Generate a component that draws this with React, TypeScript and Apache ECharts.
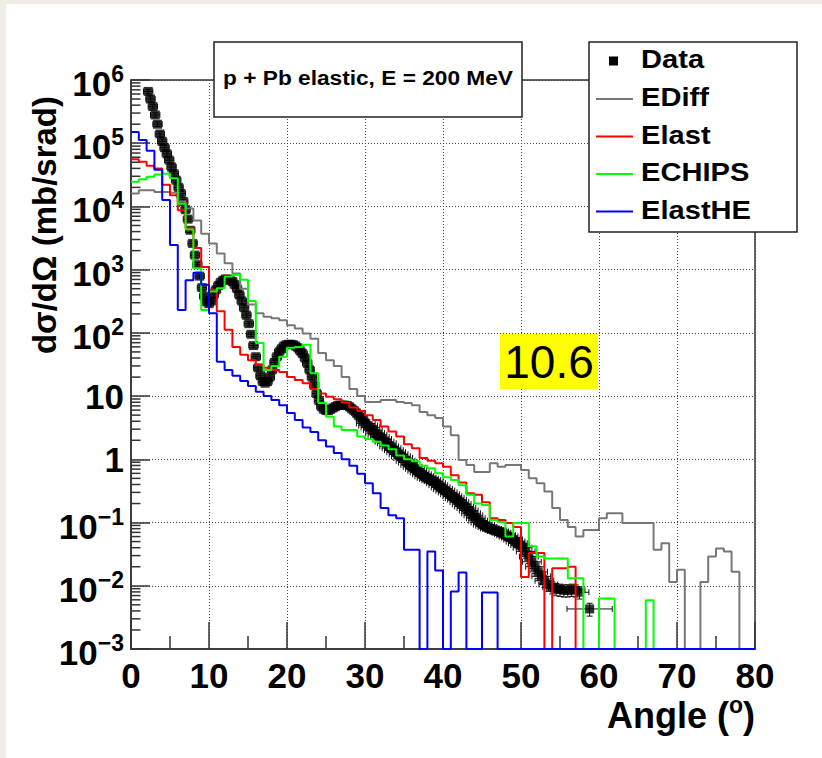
import { useEffect, useRef } from "react";
import * as echarts from "echarts";

const FONT = '"Liberation Sans", Arial, Helvetica, sans-serif';

// ---- axes ----
const X_MIN = 0;
const X_MAX = 80;
const X_STEP = 10;
const Y_MIN = 1e-3;
const Y_MAX = 1e6;
const BIN_WIDTH = 1; // histogram bins of 1 degree, starting at 0

// ---- texts ----
const titleText = "p + Pb elastic, E = 200 MeV";
const badgeText = "10.6";
const xTitle = "Angle (";
const yTitle = "dσ/dΩ (mb/srad)";
const seriesNames = ["Data", "EDiff", "Elast", "ECHIPS", "ElastHE"];
const seriesColors = ["#000000", "#777777", "#ff0000", "#00ff00", "#0000ff"];

// ---- histograms (80 bins, 0 = empty bin) ----
const ediff = [
  16000, 18000, 18000, 17000, 17000, 16500, 12000, 9300, 6000, 3700,
  2600, 1800, 1260, 870, 500, 280, 205, 180, 170, 158,
  132, 117, 98, 81, 48, 37, 30, 20, 13, 10,
  8.1, 8.1, 8.7, 8.7, 8.1, 7.8, 7.2, 5.6, 5.0, 4.5,
  3.3, 2.4, 0.98, 0.81, 0.63, 0.63, 0.87, 0.76, 0.81, 0.81,
  0.68, 0.5, 0.42, 0.31, 0.17, 0.11, 0.085, 0.06, 0.076, 0.076,
  0.117, 0.14, 0.14, 0.098, 0.098, 0.098, 0.098, 0.037, 0.047, 0.0115,
  0.018, 0, 0, 0.0115, 0.029, 0.039, 0.035, 0.0166, 0, 0,
];
const elast = [
  56000, 51000, 44000, 40000, 22000, 15000, 8700, 4500, 2200, 1100,
  480, 220, 112, 60, 45, 37, 31, 28, 26, 24,
  20, 18, 16, 13, 11, 9.8, 8.9, 7.9, 6.6, 5.8,
  5.0, 4.2, 3.3, 2.75, 2.3, 1.74, 1.5, 1.05, 0.95, 0.87,
  0.76, 0.56, 0.43, 0.29, 0.275, 0.21, 0.117, 0.11, 0.098, 0.085,
  0.0138, 0.033, 0.033, 0, 0.019, 0.019, 0.02, 0, 0, 0,
  0, 0, 0, 0, 0, 0, 0, 0, 0, 0,
  0, 0, 0, 0, 0, 0, 0, 0, 0, 0,
];
const echips = [
  24500, 27000, 29500, 32000, 33000, 28000, 11000, 4300, 1050, 230,
  450, 510, 780, 830, 690, 320, 69, 26, 30, 42,
  58, 60, 65, 23, 7.8, 4.7, 3.3, 2.9, 2.9, 2.3,
  2.1, 1.9, 1.66, 1.45, 1.15, 1.0, 0.93, 0.79, 0.72, 0.6,
  0.52, 0.47, 0.39, 0.275, 0.2, 0.19, 0.11, 0.102, 0.06, 0.098,
  0.098, 0.042, 0.029, 0.027, 0.027, 0.027, 0.0132, 0.0132, 0, 0,
  0.0063, 0.0063, 0, 0, 0, 0, 0.0059, 0, 0, 0,
  0, 0, 0, 0, 0, 0, 0, 0, 0, 0,
];
const elastHE = [
  150000, 112000, 76000, 38000, 12600, 2450, 230, 680, 890, 575,
  205, 35, 26, 21, 17.4, 14.5, 11.7, 10, 8.7, 7.2,
  5.4, 4.2, 3.2, 2.7, 2.0, 1.6, 1.26, 1.0, 0.79, 0.59,
  0.42, 0.29, 0.17, 0.13, 0.117, 0.037, 0.037, 0, 0.035, 0.0174,
  0, 0.0081, 0.0162, 0, 0, 0.0078, 0.0078, 0, 0, 0,
  0, 0, 0, 0, 0, 0, 0, 0, 0, 0,
  0, 0, 0, 0, 0, 0, 0, 0, 0, 0,
  0, 0, 0, 0, 0, 0, 0, 0, 0, 0,
];

// ---- measured data: [angle (deg), dσ/dΩ (mb/srad)] ----
const dataPoints: [number, number][] = [
  [2.2, 6.6e5], [2.5, 5.0e5], [2.8, 3.8e5], [3.1, 2.8e5], [3.4, 2.0e5],
  [3.7, 1.4e5], [4.0, 1.07e5], [4.3, 8.5e4], [4.6, 6.8e4], [4.9, 5.4e4],
  [5.2, 4.2e4], [5.5, 3.3e4], [5.8, 2.6e4], [6.1, 2.0e4], [6.4, 1.6e4],
  [6.7, 1.2e4], [7.0, 8900], [7.3, 6300], [7.6, 4200], [7.9, 2600],
  [8.2, 1700], [8.5, 1200], [8.8, 790], [9.1, 520], [9.4, 380],
  [9.7, 310], [10.0, 290], [10.3, 320], [10.6, 400], [10.9, 480],
  [11.2, 560], [11.5, 630], [11.8, 680], [12.1, 710], [12.4, 710],
  [12.7, 690], [13.0, 650], [13.3, 580], [13.6, 500], [13.9, 400],
  [14.2, 320], [14.5, 250], [14.8, 190], [15.1, 140], [15.4, 95],
  [15.7, 63], [16.0, 42], [16.3, 28], [16.6, 21], [16.9, 17],
  [17.2, 16], [17.5, 17], [17.8, 20], [18.1, 26], [18.4, 34],
  [18.7, 42], [19.0, 50], [19.3, 56], [19.6, 62], [19.9, 65],
  [20.2, 66], [20.5, 66], [20.8, 65], [21.1, 62], [21.4, 58],
  [21.7, 52], [22.0, 47], [22.3, 40], [22.6, 33], [22.9, 26],
  [23.2, 20], [23.5, 15], [23.8, 11], [24.1, 8.5], [24.4, 6.9],
  [24.7, 6.2], [25.0, 5.9], [25.3, 5.9], [25.6, 6.2], [25.9, 6.5],
  [26.2, 6.8], [26.5, 7.1], [26.8, 7.2], [27.1, 7.2], [27.4, 7.2],
  [27.7, 7.1], [28.0, 6.8], [28.3, 6.3], [28.6, 5.9], [28.9, 5.4],
  [29.2, 4.9], [29.5, 4.5], [29.8, 4.1], [30.1, 3.7], [30.4, 3.4],
  [30.7, 3.2], [31.0, 2.9], [31.3, 2.6], [31.6, 2.45], [31.9, 2.25],
  [32.2, 2.1], [32.5, 1.9], [32.8, 1.8], [33.1, 1.6], [33.4, 1.5],
  [33.7, 1.4], [34.0, 1.3], [34.3, 1.2], [34.6, 1.12], [34.9, 1.05],
  [35.2, 0.95], [35.5, 0.89], [35.8, 0.81], [36.1, 0.76], [36.4, 0.71],
  [36.7, 0.66], [37.0, 0.62], [37.3, 0.58], [37.6, 0.54], [37.9, 0.51],
  [38.2, 0.49], [38.5, 0.47], [38.8, 0.45], [39.1, 0.42], [39.4, 0.39],
  [39.7, 0.36], [40.0, 0.34], [40.3, 0.32], [40.6, 0.3], [40.9, 0.28],
  [41.2, 0.26], [41.5, 0.245], [41.8, 0.23], [42.1, 0.21], [42.4, 0.195],
  [42.7, 0.18], [43.0, 0.17], [43.3, 0.155], [43.6, 0.14], [43.9, 0.13],
  [44.2, 0.117], [44.5, 0.107], [44.8, 0.1], [45.1, 0.093], [45.4, 0.089],
  [45.7, 0.085], [46.0, 0.081], [46.3, 0.079], [46.6, 0.076], [46.9, 0.074],
  [47.2, 0.072], [47.5, 0.069], [47.8, 0.066], [48.1, 0.063], [48.4, 0.06],
  [48.7, 0.058], [49.0, 0.054], [49.3, 0.05], [49.6, 0.047], [49.9, 0.044],
  [50.2, 0.04], [50.6, 0.035], [51.0, 0.029], [51.4, 0.024], [51.8, 0.02],
  [52.2, 0.0166], [52.6, 0.0141], [53.0, 0.012], [53.5, 0.0105], [54.0, 0.0095],
  [54.5, 0.0089], [55.0, 0.0087], [55.5, 0.0085], [56.0, 0.0085], [56.5, 0.0087],
  [57.0, 0.0085], [57.5, 0.0079], [58.8, 0.0043],
];

// error sizes by angular range: half-width in degrees, relative vertical error
const dataErrors = [
  { upTo: 30, dx: 0.6, rel: 0.08 },
  { upTo: 50, dx: 1.2, rel: 0.15 },
  { upTo: 58, dx: 1.2, rel: 0.22 },
  { upTo: 80, dx: 2.9, rel: 0.23 },
];

function histData(vals: number[]) {
  const pts: number[][] = vals.map((v, i) => [X_MIN + i * BIN_WIDTH, v > 0 ? v : Y_MIN]);
  pts.push([X_MIN + vals.length * BIN_WIDTH, pts[pts.length - 1][1]]);
  return pts;
}

const minorTickValues: number[][] = [];
for (let k = -3; k < 6; k++) {
  for (let m = 2; m <= 9; m++) minorTickValues.push([X_MIN, m * Math.pow(10, k)]);
}

const expLabel = (v: number) => {
  const e = Math.round(Math.log10(v));
  if (e === 0) return "{n|1}";
  if (e === 1) return "{n|10}";
  return `{b|10}{s|${e < 0 ? "\u2212" + -e : e}}`;
};

const AX = "#333333";

export default function App() {
  const ref = useRef<HTMLDivElement>(null);
  useEffect(() => {
    if (!ref.current) return;
    const chart = echarts.init(ref.current, undefined, { renderer: "svg" });

    const errorData = dataPoints.map(([x, y]) => {
      const band = dataErrors.find((b) => x <= b.upTo) || dataErrors[dataErrors.length - 1];
      return [x, y, band.dx, band.rel];
    });

    const errStyle = { stroke: "#111", lineWidth: 1 };
    const renderErr = (_p: any, api: any) => {
      const x = api.value(0);
      const y = api.value(1);
      const dx = api.value(2);
      const rel = api.value(3);
      const c = api.coord([x, y]);
      const l = api.coord([x - dx, y]);
      const r = api.coord([x + dx, y]);
      const t = api.coord([x, y * (1 + rel)]);
      const b = api.coord([x, y * (1 - rel)]);
      const cap = 3;
      return {
        type: "group",
        children: [
          { type: "line", shape: { x1: l[0], y1: c[1], x2: r[0], y2: c[1] }, style: errStyle },
          { type: "line", shape: { x1: l[0], y1: c[1] - cap, x2: l[0], y2: c[1] + cap }, style: errStyle },
          { type: "line", shape: { x1: r[0], y1: c[1] - cap, x2: r[0], y2: c[1] + cap }, style: errStyle },
          { type: "line", shape: { x1: c[0], y1: t[1], x2: c[0], y2: b[1] }, style: errStyle },
          { type: "line", shape: { x1: c[0] - cap, y1: t[1], x2: c[0] + cap, y2: t[1] }, style: errStyle },
          { type: "line", shape: { x1: c[0] - cap, y1: b[1], x2: c[0] + cap, y2: b[1] }, style: errStyle },
        ],
      };
    };

    const renderMinor = (_p: any, api: any) => {
      const c = api.coord([api.value(0), api.value(1)]);
      return {
        type: "line",
        shape: { x1: c[0], y1: c[1], x2: c[0] + 9.5, y2: c[1] },
        style: { stroke: AX, lineWidth: 1.5 },
      };
    };

    const hist = (name: string, vals: number[], color: string) => ({
      type: "line",
      name,
      data: histData(vals),
      step: "end",
      symbol: "none",
      showSymbol: false,
      clip: false,
      silent: true,
      lineStyle: { color, width: 2 },
      itemStyle: { color },
      z: 3,
    });

    const txt = (
      text: string,
      x: number,
      y: number,
      size: number,
      opts: any = {}
    ) => ({
      type: "text",
      x,
      y,
      z: 101,
      silent: true,
      scaleX: opts.scaleX || 1,
      rotation: opts.rotation || 0,
      style: {
        text,
        fill: "#000",
        fontFamily: FONT,
        fontSize: size,
        fontWeight: opts.weight || "bold",
        align: opts.align || "left",
        textAlign: opts.align || "left",
        verticalAlign: "middle",
        textVerticalAlign: "middle",
        rich: opts.rich,
      },
    });

    const legendRows = [59.5, 97.5, 135, 172.5, 210];
    const legendLines = [61, 99, 136.5, 174, 211.5];

    const graphicEls: any[] = [
      { type: "rect", silent: true, z: 100, shape: { x: 0, y: 0, width: 6, height: 758 }, style: { fill: "#efede6" } },
      { type: "rect", silent: true, z: 100, shape: { x: 0, y: 0, width: 822, height: 4 }, style: { fill: "#efede6" } },
      // title box
      { type: "rect", silent: true, z: 100, shape: { x: 214, y: 42, width: 308, height: 75 }, style: { fill: "#fff", stroke: "#222", lineWidth: 1.5 } },
      txt(titleText, 368, 77.5, 21, { align: "center", scaleX: 1.08 }),
      // legend box
      { type: "rect", silent: true, z: 100, shape: { x: 589, y: 42, width: 208, height: 190 }, style: { fill: "#fff", stroke: "#222", lineWidth: 1.5 } },
      { type: "rect", silent: true, z: 101, shape: { x: 609, y: legendLines[0] - 4.5, width: 9, height: 9 }, style: { fill: seriesColors[0] } },
      // badge
      { type: "rect", silent: true, z: 100, shape: { x: 500, y: 334, width: 98, height: 55 }, style: { fill: "#ffff00" } },
      txt(badgeText, 549, 361.5, 46, { align: "center", weight: "normal" }),
      // axis titles
      txt("{a|" + xTitle + "}{s|o}{a|)}", 755, 711, 36, {
        align: "right",
        rich: {
          a: { fontFamily: FONT, fontWeight: "bold", fontSize: 36, lineHeight: 36, padding: [8, 0, 0, 0], color: "#000" },
          s: { fontFamily: FONT, fontWeight: "bold", fontSize: 23, lineHeight: 23, verticalAlign: "top", color: "#000" },
        },
      }),
      txt(yTitle, 44, 96, 33, { align: "right", rotation: Math.PI / 2 }),
    ];
    for (let i = 1; i < seriesNames.length; i++) {
      graphicEls.push({
        type: "line",
        silent: true,
        z: 101,
        shape: { x1: 596, y1: legendLines[i], x2: 633, y2: legendLines[i] },
        style: { stroke: seriesColors[i], lineWidth: 2 },
      });
    }
    seriesNames.forEach((n, i) => graphicEls.push(txt(n, 641, legendRows[i], 26, { scaleX: 1.12 })));

    const supRich = {
      n: { fontFamily: FONT, fontWeight: "bold", fontSize: 35, lineHeight: 35, color: "#000" },
      b: { fontFamily: FONT, fontWeight: "bold", fontSize: 35, lineHeight: 35, padding: [7, 0, 0, 0], color: "#000" },
      s: { fontFamily: FONT, fontWeight: "bold", fontSize: 23, lineHeight: 23, verticalAlign: "top", color: "#000" },
    };

    const axLine = { color: AX, width: 1.5 };
    const dotted = { type: [1, 2], color: "#444", width: 1 };

    chart.setOption({
      animation: false,
      backgroundColor: "#ffffff",
      grid: { left: 131, top: 80, width: 624, height: 569, show: true, borderColor: AX, borderWidth: 1.5, backgroundColor: "transparent" },
      xAxis: {
        type: "value",
        min: X_MIN,
        max: X_MAX,
        interval: X_STEP,
        axisLine: { show: true, onZero: false, lineStyle: axLine },
        axisTick: { show: true, inside: true, length: 27, lineStyle: axLine },
        minorTick: { show: true, splitNumber: 2, length: 13, lineStyle: axLine },
        splitLine: { show: true, lineStyle: dotted },
        axisLabel: { margin: 9, fontFamily: FONT, fontWeight: "bold", fontSize: 35, color: "#000" },
      },
      yAxis: {
        type: "log",
        logBase: 10,
        min: Y_MIN,
        max: Y_MAX,
        splitNumber: 9,
        axisLine: { show: true, onZero: false, lineStyle: axLine },
        axisTick: { show: true, inside: true, length: 19, lineStyle: axLine },
        splitLine: { show: true, lineStyle: dotted },
        axisLabel: { margin: 7, formatter: expLabel, rich: supRich },
      },
      series: [
        { type: "custom", name: "minorTicks", silent: true, data: minorTickValues, encode: { x: 0, y: 1 }, renderItem: renderMinor, z: 1 },
        { type: "custom", name: "DataErrors", silent: true, data: errorData, encode: { x: 0, y: 1 }, renderItem: renderErr, z: 2 },
        { type: "scatter", name: seriesNames[0], data: dataPoints, symbol: "rect", symbolSize: 9, itemStyle: { color: seriesColors[0] }, silent: true, z: 2 },
        hist(seriesNames[1], ediff, seriesColors[1]),
        hist(seriesNames[2], elast, seriesColors[2]),
        hist(seriesNames[3], echips, seriesColors[3]),
        hist(seriesNames[4], elastHE, seriesColors[4]),
      ],
      graphic: { elements: graphicEls },
    });

    return () => chart.dispose();
  }, []);

  return (
    <div style={{ position: "fixed", left: 0, top: 0, width: 822, height: 758, background: "#fff" }}>
      <div ref={ref} style={{ width: 822, height: 758 }} />
    </div>
  );
}
